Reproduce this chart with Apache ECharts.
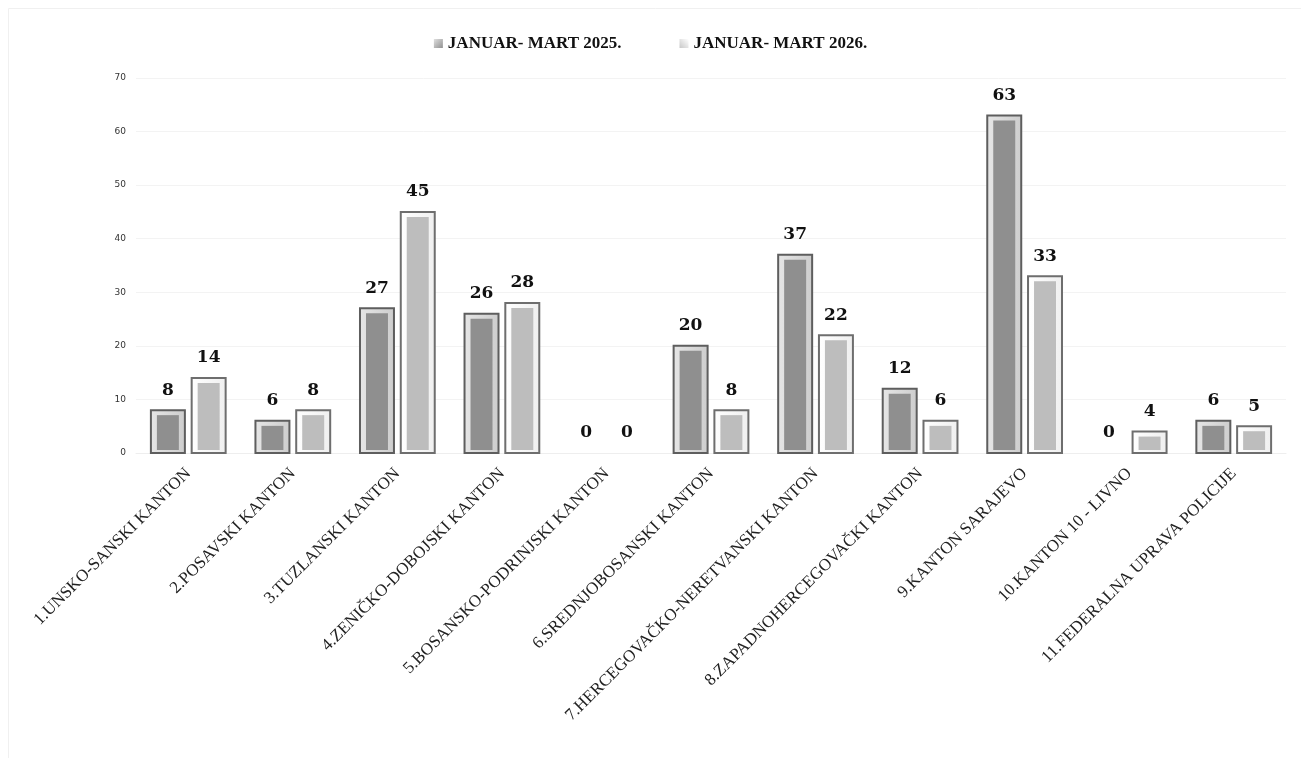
<!DOCTYPE html>
<html><head><meta charset="utf-8">
<script src="https://cdn.jsdelivr.net/npm/echarts@6/dist/echarts.min.js"></script>
<style>html,body{margin:0;padding:0;background:#fff}#c{width:1301px;height:758px}</style>
</head><body><div id="c"></div>
<script>
const categories = ["1.UNSKO-SANSKI KANTON","2.POSAVSKI KANTON","3.TUZLANSKI KANTON","4.ZENIČKO-DOBOJSKI KANTON","5.BOSANSKO-PODRINJSKI KANTON","6.SREDNJOBOSANSKI KANTON","7.HERCEGOVAČKO-NERETVANSKI KANTON","8.ZAPADNOHERCEGOVAČKI KANTON","9.KANTON SARAJEVO","10.KANTON 10 - LIVNO","11.FEDERALNA UPRAVA POLICIJE"];
const seriesNames = ["JANUAR- MART 2025.","JANUAR- MART 2026."];
const values2025 = [8,6,27,26,0,20,37,12,63,0,6];
const values2026 = [14,8,45,28,0,8,22,6,33,4,5];

const styles = [
  {stroke:'#5e5e5e', frame:'#cdcdcd', frameHi:'#e6e6e6', inner:'#8f8f8f'},
  {stroke:'#6e6e6e', frame:'#efefef', frameHi:'#ffffff', inner:'#bdbdbd'}
];
function makeRender(si){
  return function(params, api){
    const ci = api.value(0), v = api.value(1);
    const base = api.coord([ci, 0]);
    const top = api.coord([ci, v]);
    const band = api.size([1,0])[0];
    const barW = band*0.325, gap = barW*0.2;
    const x = si===0 ? base[0]-gap/2-barW : base[0]+gap/2;
    const h = base[1]-top[1];
    const st = styles[si];
    const children = [];
    if (h > 0) {
      children.push({type:'rect', shape:{x:x, y:top[1], width:barW, height:h},
        style:{fill:{type:'linear',x:0,y:0,x2:1,y2:0,colorStops:[{offset:0,color:st.frameHi},{offset:1,color:st.frame}]}, stroke:st.stroke, lineWidth:2}});
      const ins = 5;
      if (h > ins*2) children.push({type:'rect', shape:{x:x+ins+1, y:top[1]+ins, width:barW-2*ins-2, height:h-ins-3},
        style:{fill:st.inner}});
    }
    children.push({type:'text', x:x+barW/2, y:top[1]-20,
      style:{text:String(v), fill:'#111', font:'bold 17px "DejaVu Serif", serif', align:'center', verticalAlign:'middle'}});
    return {type:'group', children:children};
  };
}
const chart = echarts.init(document.getElementById('c'), null, {renderer:'canvas'});
chart.setOption({
  backgroundColor:'#fff',
  animation:false,
  graphic:[{type:'rect', shape:{x:8.5,y:8.5,width:1300,height:760}, style:{fill:'none', stroke:'#f0f0f0', lineWidth:1}, silent:true}],
  legend:{top:30, left:'center', itemGap:58, itemWidth:9, itemHeight:9, icon:'rect',
    data:[{name:seriesNames[0], itemStyle:{color:{type:'linear',x:0,y:0,x2:1,y2:1,colorStops:[{offset:0,color:'#e0e0e0'},{offset:1,color:'#909090'}]}}},
          {name:seriesNames[1], itemStyle:{color:{type:'linear',x:0,y:1,x2:1,y2:0,colorStops:[{offset:0,color:'#c8c8c8'},{offset:1,color:'#ffffff'}]}}}],
    textStyle:{fontFamily:'"Liberation Serif", "DejaVu Serif", serif', fontWeight:'bold', fontSize:17, color:'#111'}},
  grid:{left:136, right:15, top:78, bottom:305, containLabel:false},
  xAxis:{type:'category', data:categories, axisTick:{show:false}, axisLine:{show:true, lineStyle:{color:'#eeeeee'}},
    axisLabel:{rotate:45, interval:0, margin:18, fontFamily:'"Liberation Serif", "DejaVu Serif", serif', fontSize:17, color:'#222'}},
  yAxis:{type:'value', min:0, max:70, interval:10, axisLine:{show:false}, axisTick:{show:false},
    splitLine:{lineStyle:{color:'#f3f3f3'}},
    axisLabel:{fontFamily:'"DejaVu Sans", sans-serif', fontSize:9, color:'#333', margin:10}},
  series:[
    {name:seriesNames[0], type:'custom', renderItem:makeRender(0), data:values2025.map((v,i)=>[i,v]), encode:{x:0,y:1}, itemStyle:{color:'#8f8f8f'}},
    {name:seriesNames[1], type:'custom', renderItem:makeRender(1), data:values2026.map((v,i)=>[i,v]), encode:{x:0,y:1}, itemStyle:{color:'#bdbdbd'}}
  ]
});
</script></body></html>
